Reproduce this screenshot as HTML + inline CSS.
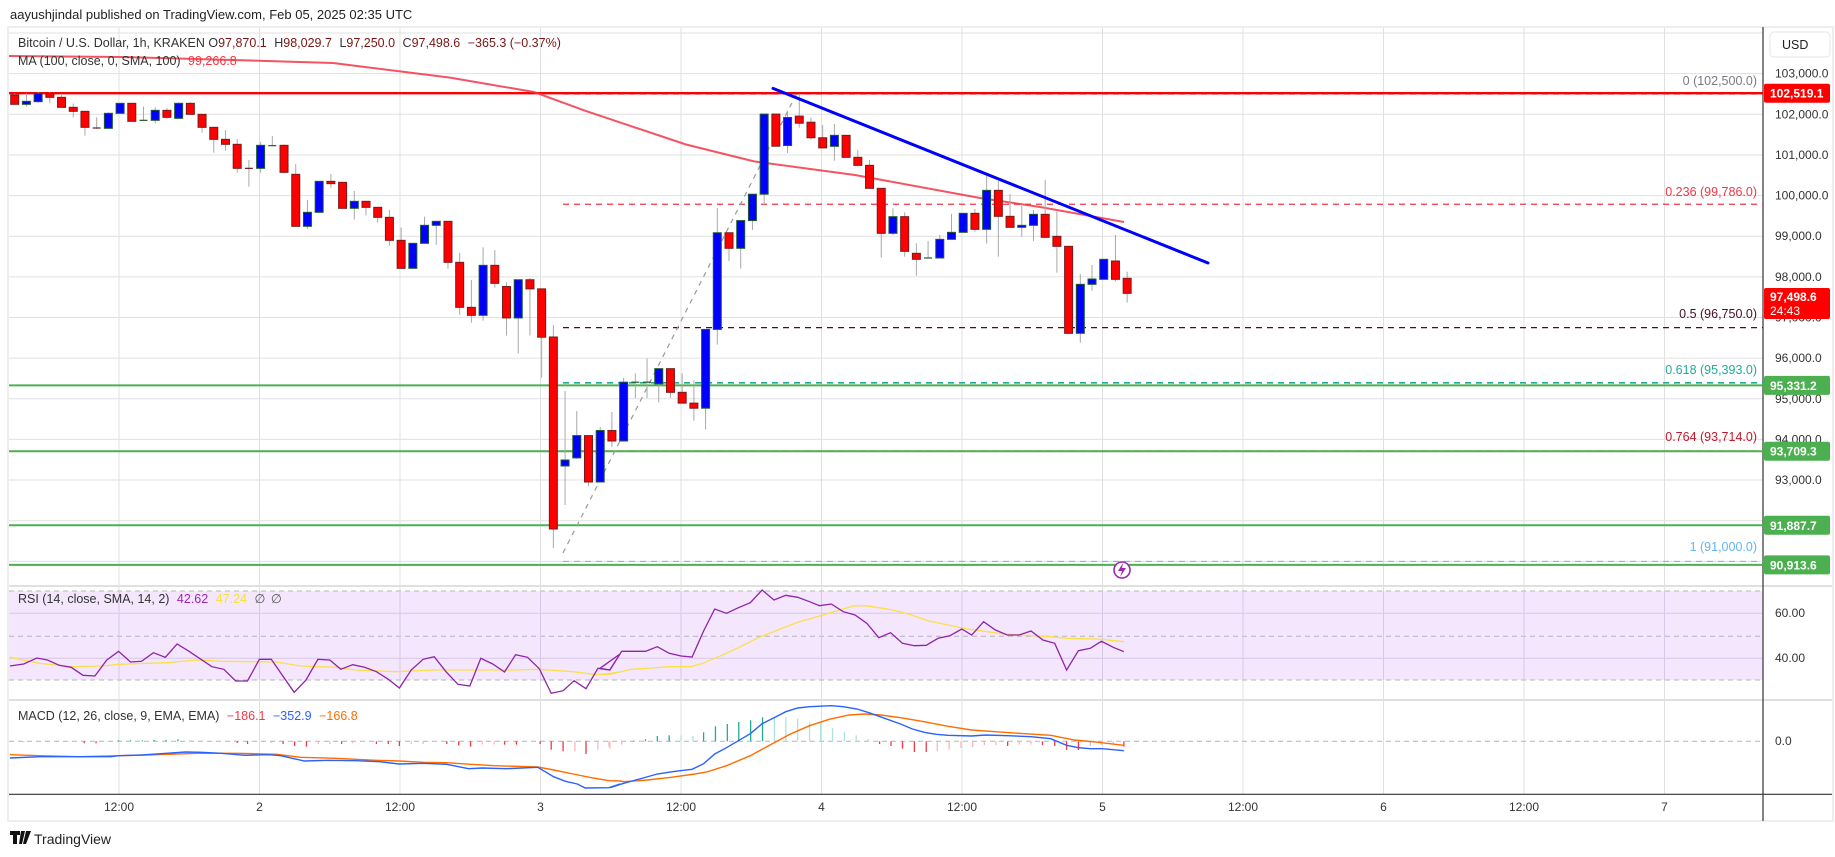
<!DOCTYPE html>
<html><head><meta charset="utf-8"><style>
html,body{margin:0;padding:0;background:#fff;width:1835px;height:857px;overflow:hidden}
svg{display:block;font-family:"Liberation Sans",sans-serif}
</style></head><body>
<svg id="s" width="1835" height="857" xmlns="http://www.w3.org/2000/svg">
<rect x="0" y="0" width="1835" height="857" fill="#fff"/>
<rect x="8" y="27" width="1825" height="794" fill="#fff" stroke="#eeeeee" stroke-width="2"/>
<g id="grid"></g>
<g id="plot"></g>
<!-- texts -->
<text x="10" y="19" font-size="13" fill="#222">aayushjindal published on TradingView.com, Feb 05, 2025 02:35 UTC</text>
<text x="18" y="47" font-size="12.5" fill="#333">Bitcoin / U.S. Dollar, 1h, KRAKEN <tspan fill="#333">O</tspan><tspan fill="#7a1414">97,870.1</tspan> <tspan dx="4" fill="#333">H</tspan><tspan fill="#7a1414">98,029.7</tspan> <tspan dx="4" fill="#333">L</tspan><tspan fill="#7a1414">97,250.0</tspan> <tspan dx="4" fill="#333">C</tspan><tspan fill="#7a1414">97,498.6</tspan> <tspan dx="4" fill="#7a1414">−365.3 (−0.37%)</tspan></text>
<text x="18" y="65" font-size="12.5" fill="#333">MA (100, close, 0, SMA, 100) <tspan dx="4" fill="#f23645">99,266.8</tspan></text>
<text x="18" y="603" font-size="12.5" fill="#333">RSI (14, close, SMA, 14, 2) <tspan dx="4" fill="#9c27b0">42.62</tspan> <tspan dx="4" fill="#f5e23a">47.24</tspan> <tspan dx="4" fill="#555">∅</tspan> <tspan dx="2" fill="#555">∅</tspan></text>
<text x="18" y="720" font-size="12.5" fill="#333">MACD (12, 26, close, 9, EMA, EMA) <tspan dx="4" fill="#f23645">−186.1</tspan> <tspan dx="4" fill="#2962ff">−352.9</tspan> <tspan dx="4" fill="#ff6d00">−166.8</tspan></text>
<g font-size="12.5" text-anchor="end">
<text x="1757" y="85" fill="#787b86">0 (102,500.0)</text>
<text x="1757" y="196" fill="#f23645">0.236 (99,786.0)</text>
<text x="1757" y="318" fill="#4a0e1e">0.5 (96,750.0)</text>
<text x="1757" y="374" fill="#22ab94">0.618 (95,393.0)</text>
<text x="1757" y="441" fill="#c2182b">0.764 (93,714.0)</text>
<text x="1757" y="551" fill="#64b5f6">1 (91,000.0)</text>
</g>
<g id="axis" font-size="12" fill="#333"></g>
<g font-size="12" fill="#333" text-anchor="middle">
<text x="119" y="811">12:00</text><text x="259.5" y="811">2</text><text x="400" y="811">12:00</text><text x="540.5" y="811">3</text>
<text x="681" y="811">12:00</text><text x="821.5" y="811">4</text><text x="962" y="811">12:00</text><text x="1102.5" y="811">5</text>
<text x="1243" y="811">12:00</text><text x="1383.5" y="811">6</text><text x="1524" y="811">12:00</text><text x="1664.5" y="811">7</text>
</g>
<rect x="1770" y="32" width="60" height="25" rx="4" fill="#fff" stroke="#e6e6e6"/>
<text x="1782" y="49" font-size="12.5" fill="#222">USD</text>
<g id="badges" font-size="12" font-weight="bold" fill="#fff"></g>
<g transform="translate(10,831)"><path d="M0 0h10v4h-3v9h-4v-9h-3z M11 0h4l-3 13h-3z M16 0h5l-5 13h-3z" fill="#111"/></g>
<text x="34" y="844" font-size="14" fill="#222">TradingView</text>
<circle cx="1122" cy="570" r="8" fill="#fff" stroke="#9c27b0" stroke-width="1.6"/>
<path d="M1123 563l-5 8h4l-2 6 6-9h-4z" fill="#9c27b0"/>
</svg>
<script>
(function(){
var NS="http://www.w3.org/2000/svg";
function el(p,t,a){var e=document.createElementNS(NS,t);for(var k in a)e.setAttribute(k,a[k]);p.appendChild(e);return e;}
var grid=document.getElementById('grid'),plot=document.getElementById('plot'),axis=document.getElementById('axis'),badges=document.getElementById('badges');
function Y(p){return 114.3+(102000-p)*0.04064;}
function X(i){return 14.7+11.71*i;}
var AX=1763;
// vertical gridlines
for(var k=0;k<12;k++){var gx=119+140.5*k;el(grid,'line',{x1:gx,y1:28,x2:gx,y2:794,stroke:'#e0e0e0','stroke-width':1});}
// horizontal gridlines main
for(var p=104000;p>=91000;p-=1000){var y=Y(p);el(grid,'line',{x1:9,y1:y,x2:AX,y2:y,stroke:'#e0e0e0'});
 if(p<=103000){var t=el(axis,'text',{x:1775,y:y+4});t.textContent=(p/1000).toFixed(0)+',000.0';}}
// pane separators
el(grid,'line',{x1:9,y1:586,x2:1832,y2:586,stroke:'#e0e0e0','stroke-width':2});
el(grid,'line',{x1:9,y1:700,x2:1832,y2:700,stroke:'#e0e0e0','stroke-width':2});
// RSI band
el(grid,'rect',{x:9,y:591,width:AX-9,height:89,fill:'#f3e6fd'});
[613.3,658.3].forEach(function(y){el(grid,'line',{x1:9,y1:y,x2:AX,y2:y,stroke:'#d9c7e6'});});
[591,636.3,680].forEach(function(y){el(grid,'line',{x1:9,y1:y,x2:AX,y2:y,stroke:'#b2b5be','stroke-dasharray':'5,4'});});
el(grid,'line',{x1:9,y1:741.3,x2:AX,y2:741.3,stroke:'#b2b5be','stroke-dasharray':'5,4'});
// re-draw vertical grid over band
for(var k=0;k<12;k++){var gx=119+140.5*k;el(grid,'line',{x1:gx,y1:591,x2:gx,y2:680,stroke:'#d9c7e6'});}
[['60.00',617],['40.00',662],['0.0',745]].forEach(function(a){var t=el(axis,'text',{x:1775,y:a[1]});t.textContent=a[0];});
// axes lines
el(grid,'line',{x1:9,y1:794.3,x2:1832,y2:794.3,stroke:'#333','stroke-width':1.2});
el(grid,'line',{x1:AX,y1:27,x2:AX,y2:821,stroke:'#333','stroke-width':1.2});
// horizontal level lines
function hl(y,c,w,d,x1){var a={x1:x1||9,y1:y,x2:AX,y2:y,stroke:c,'stroke-width':w};if(d)a['stroke-dasharray']=d;el(plot,'line',a);}
hl(Y(102500),'#787b86',1.3,'6,5',563);
hl(Y(99786),'#f23645',1.3,'6,5',563);
hl(Y(96750),'#4a0e1e',1.3,'6,5',563);
hl(Y(95393),'#22ab94',1.6,'6,5',563);
hl(Y(93714),'#f23645',1.3,'6,5',563);
hl(Y(91000),'#64b5f6',1,'6,5',563);
hl(Y(102519.1),'#ff0000',2.4);
hl(Y(95331.2),'#4caf50',2);
hl(Y(93709.3),'#4caf50',2);
hl(Y(91887.7),'#4caf50',2);
hl(Y(90913.6),'#4caf50',2);
// fib diagonal
el(plot,'line',{x1:563,y1:553,x2:797,y2:93,stroke:'#9a9a9a','stroke-width':1.2,'stroke-dasharray':'5,5'});
// MA
el(plot,'polyline',{points:'9,56 120,57 233,60 333,63 450,77.6 534,92 585,110.7 686,144.5 754,161.4 855,175 980,198 1040,207 1124,222',fill:'none',stroke:'#f23645','stroke-opacity':0.85,'stroke-width':2});
// candles
var Z={1:function(v){return 60+v/3;},2:function(v){return 60+v/2.958;},3:function(v){return 120+v/3;},6:function(v){return 180+v/3;},0:function(v){return v;}};
var C=[
[1,'R',105,133,100,133],[1,'B',124,133,100,140],[1,'B',100,125,95,128],[1,'R',100,112,95,130],[1,'R',112,142,105,142],
[1,'R',142,154,130,172],[1,'R',154,202,154,227],[1,'D',203,205,172,207],[1,'B',160,205,157,205],[1,'B',130,160,130,160],
[1,'R',130,184,130,184],[1,'G',180,182,140,183],[1,'B',151,181,142,190],[1,'R',151,172,145,176],[1,'B',130,175,127,175],
[1,'R',130,163,127,163],[1,'R',163,202,163,218],[1,'R',202,238,202,278],[1,'R',238,253,210,272],[1,'R',253,325,237,338],
[1,'D',324,326,300,380],[1,'B',256,325,245,338],[1,'G',256,258,228,258],[1,'R',256,337,253,340],[1,'R',343,499,312,499],
[1,'B',457,499,420,506],[1,'B',364,457,364,457],[1,'R',364,371,342,383],[1,'R',367,445,367,445],[1,'B',424,445,393,479],
[1,'R',424,442,424,466],[1,'R',442,472,442,488],[1,'R',472,541,450,557],[1,'R',541,625,503,625],[1,'B',550,625,550,625],
[1,'B',496,550,470,550],[1,'B',484,496,484,554],[1,'R',484,607,484,626],[1,'R',607,742,578,764],[1,'R',742,766,660,788],
[1,'B',616,766,562,782],[1,'R',616,670,570,683],
[2,'R',670,763,657,815],[2,'B',650,763,650,868],[2,'R',650,677,645,815],[2,'R',677,820,677,940],
[0,'R',337,529,325,548],[0,'B',460,466,391,505],[2,'B',1111,1177,1038,1180],[0,'R',435.6,482,435.6,486],[0,'B',430.5,482,427,482],
[2,'R',1096,1127,1041,1145],[2,'B',953,1127,940,1127],[2,'G',952,954,927,1000],[2,'G',952,954,883,1000],[2,'B',913,958,913,1013],
[2,'R',913,983,913,1000],[2,'R',983,1015,927,1015],[2,'R',1015,1030,948,1067],[2,'B',797,1030,797,1093],[2,'B',511,797,438,842],
[2,'R',511,557,511,595],[2,'B',475,557,475,617],[2,'B',397,475,397,503],[2,'B',160,397,160,423],[2,'R',160,255,160,255],
[2,'B',170,253,150,275],[2,'R',166,187,100,200],[2,'R',184,230,170,235],[2,'R',230,260,192,260],
[3,'B',46,79,12,122],[3,'R',46,112,46,112],[3,'R',112,136,90,140],[3,'R',136,205,120,205],[3,'R',205,340,205,413],
[3,'B',290,340,265,345],[3,'R',290,394,277,410],[3,'R',400,418,370,467],[3,'G',413,415,363,415],[3,'B',358,414,345,414],
[3,'B',337,358,282,358],[3,'B',280,337,280,337],[3,'R',280,328,267,335],[3,'B',211,328,168,371],[3,'R',211,289,183,410],
[3,'R',289,322,222,322],[3,'B',316,322,258,350],
[6,'B',103,136,90,183],[6,'R',103,172,0,172],[6,'R',169,199,95,278],[6,'R',199,460,199,460],[6,'B',313,460,282,488],
[6,'B',297,313,255,332],[6,'B',238,298,238,298],[6,'R',243,298,165,305],[6,'R',295,340,275,368]];
C.forEach(function(c,i){var f=Z[c[0]],x=X(i),t=f(c[2]),b=f(c[3]),wt=f(c[4]),wb=f(c[5]);
 el(plot,'line',{x1:x,y1:wt,x2:x,y2:wb,stroke:'#a8a8a8','stroke-width':1});
 var col=c[1];
 if(col==='D'||col==='G'){el(plot,'line',{x1:x-4,y1:(t+b)/2,x2:x+4,y2:(t+b)/2,stroke:col==='D'?'#6b1a1a':'#1e5a2e','stroke-width':1.2});return;}
 el(plot,'rect',{x:x-4,y:t,width:8,height:Math.max(1,b-t),fill:col==='R'?'#ff0000':'#0000ff',stroke:col==='R'?'#7a1b1b':'#1e5a2e','stroke-width':1});
});
// trendline
el(plot,'line',{x1:773,y1:88.4,x2:1208,y2:263,stroke:'#0000ff','stroke-width':3,'stroke-linecap':'round'});
// RSI
function pts(arr,ox,sx){return arr.map(function(p){return (ox+p[0]/sx).toFixed(1)+','+(580+p[1]/3).toFixed(1);}).join(' ');}
var r8=[[25,258],[60,252],[93,234],[120,240],[150,256],[180,262],[210,286],[240,288],[270,240],[300,214],[330,246],[358,244],[388,218],[418,232],[448,192],[478,214],[508,238],[536,260],[566,268],[596,303],[626,303],[656,238],[686,238],[714,286],[744,337],[774,300],[804,238],[834,240],[862,268],[892,254],[922,262],[952,275],[982,298],[1010,324],[1040,270],[1070,238],[1098,230],[1128,275],[1158,313],[1188,318],[1216,235],[1246,252],[1276,276],[1304,224],[1334,232],[1364,266],[1394,340],[1424,332],[1452,302],[1482,326],[1512,265],[1542,270],[1568,222]];
var r9=[[0,265],[25,270],[55,214],[85,214],[115,214],[145,200],[175,220],[205,228],[233,231],[262,153],[290,87],[320,100],[350,83],[380,68],[410,30],[440,60],[470,46],[500,52],[530,65],[555,77],[585,72],[615,95],[645,105],[675,130],[705,173],[735,158],[765,190],[795,197],[825,196],[855,175],[885,167],[915,147],[940,165],[970,125],[1000,150],[1030,165],[1060,165],[1090,153],[1120,180],[1150,190],[1180,270],[1210,212],[1240,205],[1268,184],[1298,202],[1325,215]];
var y8=[[25,232],[100,250],[180,260],[260,258],[300,253],[420,248],[500,240],[560,244],[650,245],[700,246],[760,258],[850,262],[900,270],[1000,275],[1100,270],[1300,270],[1360,268],[1450,275],[1500,283],[1540,283],[1568,276]];
var y9=[[0,284],[25,283],[80,268],[130,264],[175,260],[230,260],[260,250],[300,230],[350,203],[400,173],[450,150],[500,127],[555,108],[600,92],[640,78],[670,77],[700,82],[740,90],[780,102],[830,122],[880,135],[930,147],[980,155],[1020,162],[1080,166],[1140,170],[1180,175],[1260,177],[1325,185]];
el(plot,'polyline',{points:pts(y8,0,2.529)+' '+pts(y9,600,2.529),fill:'none',stroke:'#fbe04a','stroke-width':1.3});
el(plot,'polyline',{points:pts(r8,0,2.529)+' '+pts(r9,600,2.529),fill:'none',stroke:'#8e24aa','stroke-width':1.3});
// MACD histogram
var h8=[[60,-3,'p'],[95,-3,'p'],[125,-3,'p'],[213,-6,'r'],[243,-6,'r'],[300,3,'t'],[330,3,'t'],[360,3,'t'],[390,4,'t'],[420,4,'t'],[450,6,'t'],[480,4,'l'],[510,3,'l'],[600,-5,'r'],[626,-8,'r'],[686,-5,'p'],[716,-8,'r'],[745,-14,'r'],[775,-16,'r'],[805,-8,'p'],[834,-8,'p'],[864,-8,'r'],[892,-6,'p'],[952,-8,'r'],[982,-8,'r'],[1010,-14,'r'],[1040,-8,'p'],[1070,-8,'p'],[1130,-8,'r'],[1160,-12,'r'],[1190,-16,'r'],[1220,-10,'p'],[1250,-10,'p'],[1276,-10,'r'],[1306,-10,'r'],[1366,-8,'r'],[1394,-25,'r'],[1424,-30,'r'],[1454,-30,'p'],[1482,-38,'r'],[1512,-25,'p'],[1540,-16,'p']];
var h9=[[25,-22,'p'],[55,-10,'p'],[85,2,'t'],[115,6,'t'],[145,16,'t'],[175,18,'t'],[205,18,'l'],[235,16,'l'],[262,27,'t'],[292,45,'t'],[322,52,'t'],[351,58,'t'],[381,63,'t'],[411,72,'t'],[441,70,'l'],[470,72,'l'],[500,68,'l'],[530,57,'l'],[558,60,'l'],[588,40,'l'],[618,28,'l'],[648,18,'l'],[678,7,'l'],[707,-8,'r'],[736,-14,'r'],[765,-22,'r'],[795,-32,'r'],[825,-32,'r'],[853,-30,'p'],[883,-25,'p'],[913,-20,'p'],[942,-17,'p'],[972,-12,'p'],[1001,-12,'p'],[1031,-14,'r'],[1060,-10,'p'],[1090,-10,'p'],[1119,-11,'r'],[1150,-14,'r'],[1180,-26,'r'],[1210,-26,'r'],[1240,-14,'p'],[1268,-12,'p'],[1298,-6,'p'],[1325,-16,'r']];
var HC={p:'#f8b8bd',r:'#f23645',t:'#22ab94',l:'#ace5dc'};
function hist(a,ox){a.forEach(function(h){var x=ox+h[0]/2.529;el(plot,'line',{x1:x,y1:741.3,x2:x,y2:741.3-h[1]/3,stroke:HC[h[2]],'stroke-width':1.3});});}
hist(h8,0);hist(h9,600);
var mb8=[[25,534],[100,530],[200,530],[280,530],[300,527],[360,525],[420,520],[470,516],[510,517],[560,520],[620,526],[680,524],[710,527],[770,543],[830,541],[900,542],[960,545],[1010,552],[1070,550],[1130,553],[1185,566],[1220,564],[1280,566],[1360,562],[1400,590],[1430,604],[1460,612],[1480,624],[1540,623],[1568,612]];
var mb9=[[25,623],[60,610],[100,597],[145,582],[190,574],[233,568],[262,551],[290,522],[320,503],[350,482],[380,461],[410,431],[440,413],[470,395],[500,384],[530,380],[585,377],[615,380],[650,387],[680,398],[720,415],[760,432],[790,447],[820,457],[850,463],[880,466],[940,468],[975,465],[1030,467],[1090,470],[1140,476],[1180,496],[1210,503],[1240,506],[1270,506],[1325,512]];
var mo8=[[25,524],[100,527],[200,530],[300,527],[400,524],[500,520],[600,520],[700,523],[760,532],[850,535],[950,541],[1010,543],[1070,547],[1130,548],[1190,553],[1250,557],[1360,561],[1400,570],[1450,582],[1500,594],[1540,602],[1568,603]];
var mo9=[[60,605],[120,600],[180,592],[240,582],[270,576],[320,557],[380,527],[430,495],[480,463],[530,437],[580,418],[630,405],[670,402],[710,405],[760,413],[820,425],[880,439],[940,450],[1000,455],[1060,460],[1140,466],[1200,480],[1260,487],[1325,496]];
el(plot,'polyline',{points:pts(mo8,0,2.529)+' '+pts(mo9,600,2.529),fill:'none',stroke:'#ff6d00','stroke-width':1.4});
el(plot,'polyline',{points:pts(mb8,0,2.529)+' '+pts(mb9,600,2.529),fill:'none',stroke:'#2962ff','stroke-width':1.4});
// badges
function badge(y,c,txt,h){h=h||19;el(badges,'rect',{x:1764,y:y-h/2,width:66,height:h,fill:c,rx:2});var t=el(badges,'text',{x:1770,y:y+4.5});t.textContent=txt;}
badge(Y(102519.1),'#ff0000','102,519.1');
badge(Y(95331.2),'#4caf50','95,331.2');
badge(Y(93709.3),'#4caf50','93,709.3');
badge(Y(91887.7),'#4caf50','91,887.7');
badge(Y(90913.6),'#4caf50','90,913.6');
el(badges,'rect',{x:1764,y:288,width:66,height:31,fill:'#ff0000',rx:2});
var t1=el(badges,'text',{x:1770,y:301});t1.textContent='97,498.6';
var t2=el(badges,'text',{x:1770,y:315,'font-weight':'normal'});t2.textContent='24:43';
})();
</script>
</body></html>
